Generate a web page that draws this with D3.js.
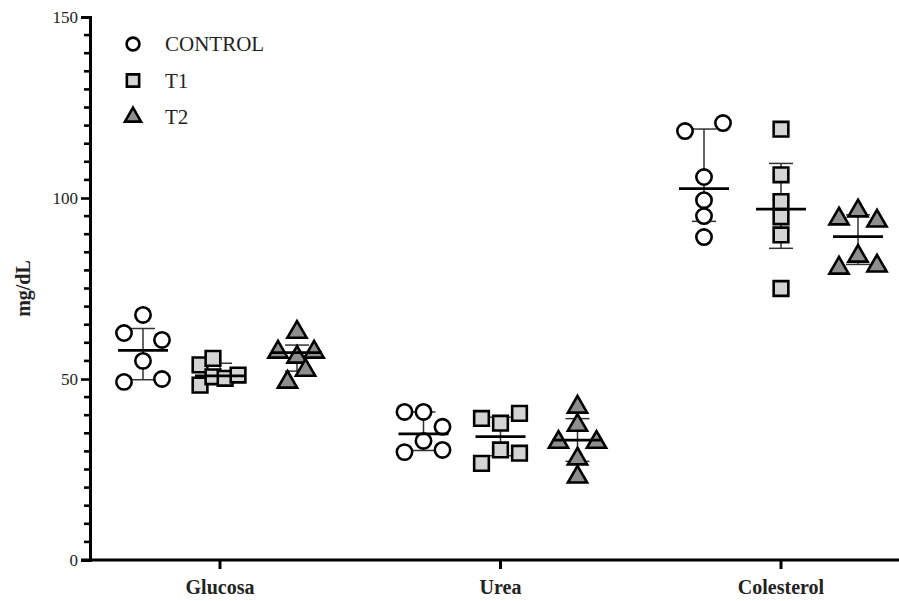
<!DOCTYPE html>
<html>
<head>
<meta charset="utf-8">
<script src="https://cdn.jsdelivr.net/npm/d3@7"></script>
<style>
  body { margin: 0; background: #fff; }
  svg { display: block; }
  text { font-family: "Liberation Serif", "Times New Roman", serif; fill: #222; }
</style>
</head>
<body>
<div id="chart"></div>
<script>
// Categories and groups.
var categories = ["Glucosa", "Urea", "Colesterol"];
var seriesNames = ["CONTROL", "T1", "T2"];
var yTicks = [0, 50, 100, 150];

// Individual values (mg/dL).
var glucosaControl = [67.7, 62.7, 60.8, 55.0, 49.2, 50.0];
var glucosaT1 = [53.9, 55.7, 48.3, 50.6, 50.2, 51.1];
var glucosaT2 = [63.5, 58.0, 58.0, 56.6, 53.0, 49.7];
var ureaControl = [40.9, 40.9, 36.8, 32.9, 29.8, 30.4];
var ureaT1 = [39.1, 37.8, 40.5, 30.4, 29.5, 26.7];
var ureaT2 = [42.8, 37.8, 33.1, 33.1, 28.5, 23.5];
var colesterolControl = [120.7, 118.5, 105.8, 99.4, 95.0, 89.2];
var colesterolT1 = [119.0, 106.4, 99.0, 94.8, 89.8, 75.0];
var colesterolT2 = [97.0, 94.8, 94.2, 84.5, 81.2, 81.8];

// Horizontal spread slot of each point (scatter spread, as in the picture).
var glucosaControlSpread = [0, -1, 1, 0, -1, 1];
var glucosaT1Spread = [-1.05, -0.37, -1.05, -0.37, 0.27, 0.95];
var glucosaT2Spread = [0, -1, 0.9, 0, 0.45, -0.5];
var ureaControlSpread = [-1, 0, 1, 0, -1, 1];
var ureaT1Spread = [-1, 0, 1, 0, 1, -1];
var ureaT2Spread = [0, 0, -1, 1, 0, 0];
var colesterolControlSpread = [1, -1, 0, 0, 0, 0];
var colesterolT1Spread = [0, 0, 0, 0, 0, 0];
var colesterolT2Spread = [0, -1, 1, 0, -1, 1];

var values = [
  [glucosaControl, glucosaT1, glucosaT2],
  [ureaControl, ureaT1, ureaT2],
  [colesterolControl, colesterolT1, colesterolT2]
];
var spreads = [
  [glucosaControlSpread, glucosaT1Spread, glucosaT2Spread],
  [ureaControlSpread, ureaT1Spread, ureaT2Spread],
  [colesterolControlSpread, colesterolT1Spread, colesterolT2Spread]
];

// Layout.
var width = 899,
    height = 601,
    margin = { left: 90, top: 17, bottom: 41 },
    slot = 19,
    medianHalf = 25,
    capHalf = 12;

// Quartile as Prism computes it: position (n + 1) * p.
function quartile(arr, p) {
  var s = arr.slice().sort(d3.ascending),
      n = s.length,
      pos = (n + 1) * p,
      i = Math.floor(pos),
      f = pos - i;
  if (i < 1) return s[0];
  if (i >= n) return s[n - 1];
  return s[i - 1] + f * (s[i] - s[i - 1]);
}

var svg = d3.select("#chart").append("svg")
  .attr("width", width)
  .attr("height", height);

var y = d3.scaleLinear()
  .domain([0, 150])
  .range([height - margin.bottom, margin.top]);

var x = d3.scalePoint()
  .domain(categories)
  .range([220, 781]);

var xSeries = d3.scalePoint()
  .domain(seriesNames)
  .range([-77, 77]);

// Symbol styles per series.
var symbolType = { "CONTROL": d3.symbolCircle, "T1": d3.symbolSquare, "T2": d3.symbolTriangle };
var symbolSize = { "CONTROL": 185, "T1": 215, "T2": 160 };
var symbolFill = { "CONTROL": "#ffffff", "T1": "#d4d4d4", "T2": "#8e8e8e" };

function symbolPath(name, scale) {
  return d3.symbol().type(symbolType[name]).size(symbolSize[name] * (scale || 1))();
}

// Flatten the data into groups.
var groups = [];
categories.forEach(function (c, ci) {
  seriesNames.forEach(function (s, si) {
    var v = values[ci][si];
    groups.push({
      category: c,
      series: s,
      cx: x(c) + xSeries(s),
      points: v.map(function (d, i) { return { value: d, spread: spreads[ci][si][i] }; }),
      median: quartile(v, 0.5),
      q1: quartile(v, 0.25),
      q3: quartile(v, 0.75)
    });
  });
});

// Y axis with minor ticks every 5.
var yAxisG = svg.append("g")
  .attr("transform", "translate(" + margin.left + ",0)");

yAxisG.selectAll("line.minor")
  .data(d3.range(5, 150, 5).filter(function (d) { return d % 50 !== 0; }))
  .enter().append("line")
    .attr("class", "minor")
    .attr("x1", -6).attr("x2", 0)
    .attr("y1", y).attr("y2", y)
    .attr("stroke", "#000")
    .attr("stroke-width", 2.6);

yAxisG.call(d3.axisLeft(y).tickValues(yTicks).tickSize(9).tickPadding(3))
  .call(function (g) {
    g.select(".domain").attr("stroke-width", 3).attr("stroke", "#000");
    g.selectAll(".tick line").attr("stroke-width", 2.6);
    g.selectAll(".tick text")
      .attr("font-size", 17)
      .attr("font-family", "Liberation Serif, serif")
      .attr("fill", "#333");
  });

// X axis, running to the right edge.
var baseY = y(0);
svg.append("line")
  .attr("x1", margin.left - 9).attr("x2", width)
  .attr("y1", baseY).attr("y2", baseY)
  .attr("stroke", "#000").attr("stroke-width", 3);

var xTick = svg.selectAll("g.xtick")
  .data(categories)
  .enter().append("g")
    .attr("class", "xtick")
    .attr("transform", function (d) { return "translate(" + x(d) + "," + baseY + ")"; });
xTick.append("line")
  .attr("y1", 0).attr("y2", 9)
  .attr("stroke", "#000").attr("stroke-width", 3);
xTick.append("text")
  .attr("y", 34)
  .attr("text-anchor", "middle")
  .attr("font-size", 20)
  .attr("font-weight", "bold")
  .text(function (d) { return d; });

// Y axis title.
svg.append("text")
  .attr("transform", "translate(30," + y(75) + ") rotate(-90)")
  .attr("text-anchor", "middle")
  .attr("font-size", 20)
  .attr("font-weight", "bold")
  .text("mg/dL");

// Interquartile bars behind the points.
var g = svg.selectAll("g.group")
  .data(groups)
  .enter().append("g")
    .attr("class", "group")
    .attr("transform", function (d) { return "translate(" + d.cx + ",0)"; });

g.append("line")
  .attr("y1", function (d) { return y(d.q1); })
  .attr("y2", function (d) { return y(d.q3); })
  .attr("stroke", "#333").attr("stroke-width", 1.5);

g.selectAll("line.cap")
  .data(function (d) { return [d.q1, d.q3]; })
  .enter().append("line")
    .attr("class", "cap")
    .attr("x1", -capHalf).attr("x2", capHalf)
    .attr("y1", y).attr("y2", y)
    .attr("stroke", "#333").attr("stroke-width", 1.5);

// Points.
g.each(function (grp) {
  d3.select(this).selectAll("path.pt")
    .data(grp.points)
    .enter().append("path")
      .attr("class", "pt")
      .attr("transform", function (d) {
        var dy = grp.series === "T2" ? 2 : 0;
        return "translate(" + (d.spread * slot) + "," + (y(d.value) + dy) + ")";
      })
      .attr("d", symbolPath(grp.series))
      .attr("fill", symbolFill[grp.series])
      .attr("stroke", "#000")
      .attr("stroke-width", 2.6)
      .attr("stroke-linejoin", "miter");
});

// Median lines on top.
g.append("line")
  .attr("x1", -medianHalf).attr("x2", medianHalf)
  .attr("y1", function (d) { return y(d.median); })
  .attr("y2", function (d) { return y(d.median); })
  .attr("stroke", "#000").attr("stroke-width", 2.8);

// Legend.
var legend = svg.selectAll("g.legend")
  .data(seriesNames)
  .enter().append("g")
    .attr("class", "legend")
    .attr("transform", function (d, i) { return "translate(133," + (44 + i * 36.5) + ")"; });
legend.append("path")
  .attr("d", function (d) { return symbolPath(d, 0.7); })
  .attr("fill", function (d) { return symbolFill[d]; })
  .attr("stroke", "#000")
  .attr("stroke-width", 2.6);
legend.append("text")
  .attr("x", 32)
  .attr("dy", "0.35em")
  .attr("font-size", 21)
  .text(function (d) { return d; });
</script>
</body>
</html>
